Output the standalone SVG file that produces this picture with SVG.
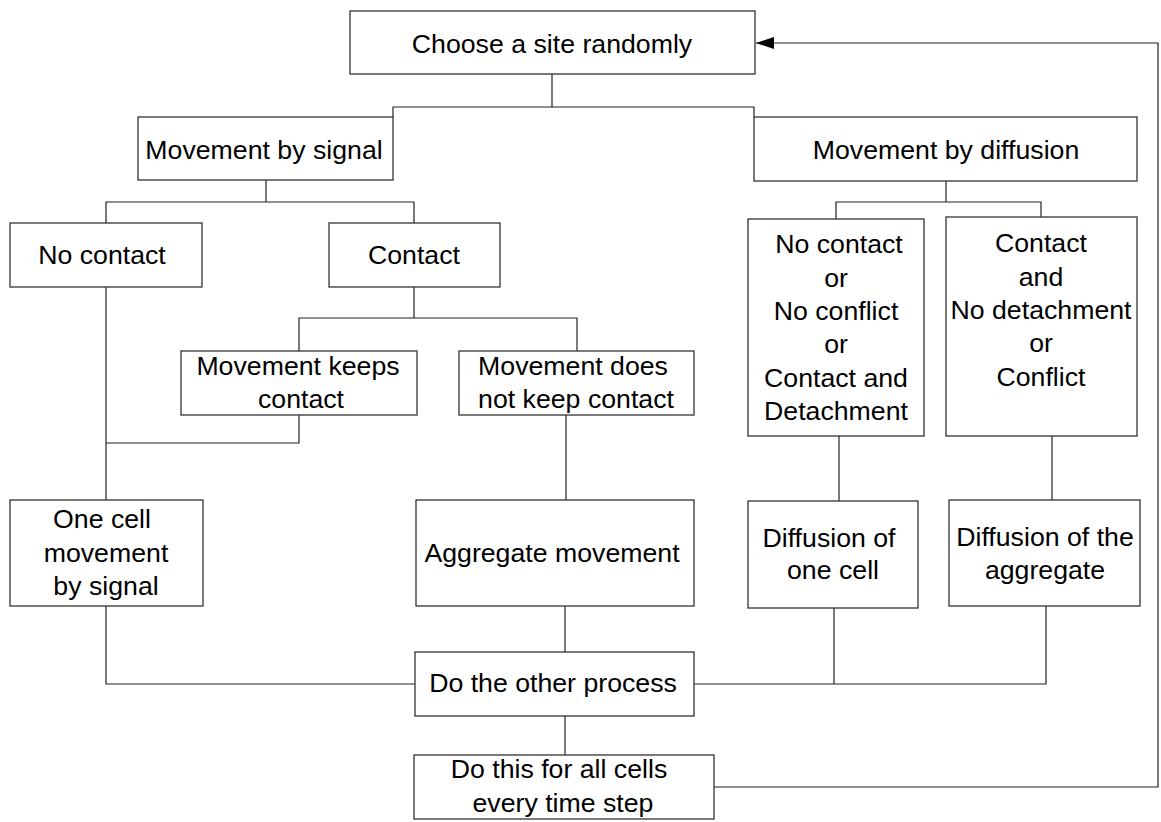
<svg xmlns="http://www.w3.org/2000/svg" width="1161" height="822" viewBox="0 0 1161 822">
<style>
.box{fill:#fff;stroke:#333;stroke-width:1.3}
.ln{fill:none;stroke:#222;stroke-width:1.2}
text{font-family:"Liberation Sans",Arial,sans-serif;font-size:26.7px;fill:#000;text-anchor:middle}
</style>
<defs>
<marker id="ah" markerWidth="18" markerHeight="12" refX="18" refY="6" orient="auto" markerUnits="userSpaceOnUse">
<path d="M0,0 L18,6 L0,12 Z" fill="#000"/>
</marker>
</defs>
<rect width="1161" height="822" fill="#fff"/>
<g id="connectors">
<polyline class="ln" points="552,74 552,107"/>
<polyline class="ln" points="393,117 393,107 754,107 754,117"/>
<polyline class="ln" points="266,180 266,202"/>
<polyline class="ln" points="106,223 106,202 414,202 414,223"/>
<polyline class="ln" points="414,287 414,318"/>
<polyline class="ln" points="299,351 299,318 577,318 577,351"/>
<polyline class="ln" points="106,287 106,500"/>
<polyline class="ln" points="299,415 299,443 106,443"/>
<polyline class="ln" points="566,415 566,500"/>
<polyline class="ln" points="946,181 946,202"/>
<polyline class="ln" points="836,219 836,202 1041,202 1041,217"/>
<polyline class="ln" points="839,436 839,501"/>
<polyline class="ln" points="1052,436 1052,500"/>
<polyline class="ln" points="106,606 106,684 415,684"/>
<polyline class="ln" points="565,606 565,652"/>
<polyline class="ln" points="693,684 1046,684 1046,606"/>
<polyline class="ln" points="834,608 834,684"/>
<polyline class="ln" points="565,716 565,755"/>
<polyline class="ln" points="714,787 1158,787 1158,43 756,43" marker-end="url(#ah)"/>
</g>
<g id="choose"><rect class="box" x="350" y="11" width="405" height="63"/><text x="552" y="53">Choose a site randomly</text></g>
<g id="signal"><rect class="box" x="138" y="117" width="255" height="63"/><text x="264" y="159">Movement by signal</text></g>
<g id="diffusion"><rect class="box" x="754" y="117" width="383" height="64"/><text x="946" y="159">Movement by diffusion</text></g>
<g id="nocontact"><rect class="box" x="10" y="223" width="192" height="64"/><text x="102" y="264">No contact</text></g>
<g id="contact"><rect class="box" x="329" y="223" width="171" height="64"/><text x="414" y="264">Contact</text></g>
<g id="keeps"><rect class="box" x="181" y="351" width="236" height="64"/><text x="298" y="375">Movement keeps</text><text x="301" y="408">contact</text></g>
<g id="notkeep"><rect class="box" x="459" y="351" width="235" height="64"/><text x="573" y="375">Movement does</text><text x="576" y="408">not keep contact</text></g>
<g id="dleft"><rect class="box" x="748" y="219" width="176" height="217"/>
<text x="839" y="253">No contact</text><text x="836" y="287">or</text><text x="836" y="320">No conflict</text><text x="836" y="353">or</text><text x="836" y="387">Contact and</text><text x="836" y="420">Detachment</text></g>
<g id="dright"><rect class="box" x="946" y="217" width="191" height="219"/>
<text x="1041" y="252">Contact</text><text x="1041" y="286">and</text><text x="1041" y="319">No detachment</text><text x="1041" y="352">or</text><text x="1041" y="386">Conflict</text></g>
<g id="onecell"><rect class="box" x="10" y="500" width="193" height="106"/>
<text x="102" y="528">One cell</text><text x="106" y="562">movement</text><text x="106" y="595">by signal</text></g>
<g id="aggregate"><rect class="box" x="416" y="500" width="278" height="106"/><text x="552" y="562">Aggregate movement</text></g>
<g id="diffone"><rect class="box" x="748" y="501" width="170" height="107"/><text x="829" y="547">Diffusion of</text><text x="833" y="579">one cell</text></g>
<g id="diffagg"><rect class="box" x="949" y="500" width="191" height="106"/><text x="1045" y="546">Diffusion of the</text><text x="1045" y="579">aggregate</text></g>
<g id="other"><rect class="box" x="415" y="652" width="279" height="64"/><text x="553" y="692">Do the other process</text></g>
<g id="allcells"><rect class="box" x="414" y="755" width="300" height="64"/><text x="559" y="778">Do this for all cells</text><text x="563" y="812">every time step</text></g>
</svg>
